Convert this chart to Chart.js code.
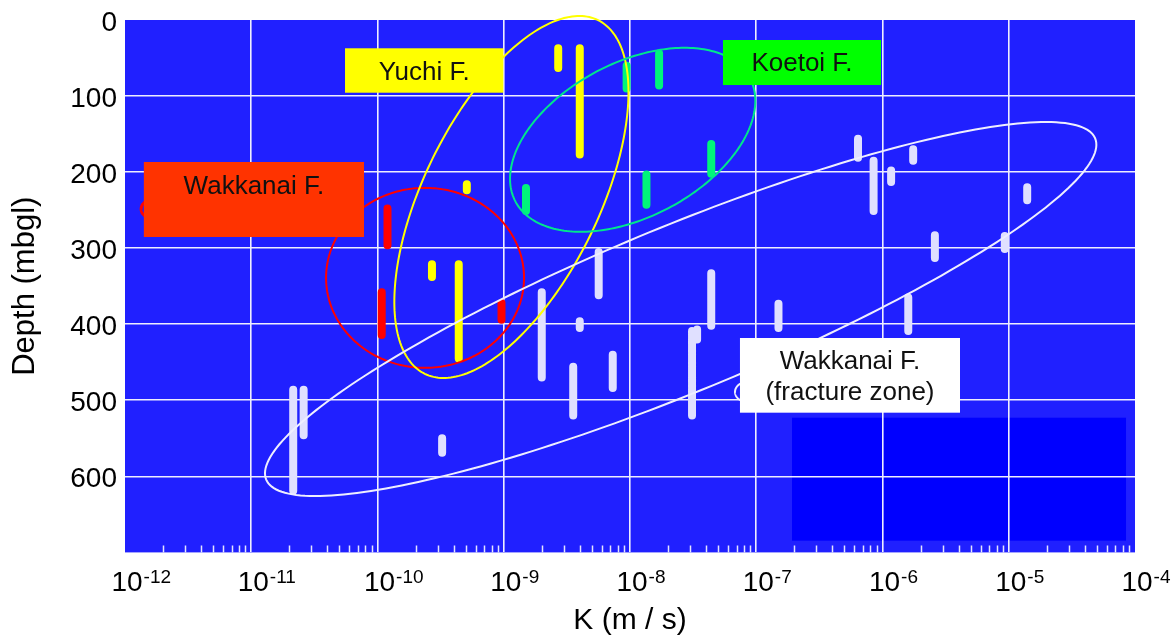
<!DOCTYPE html>
<html>
<head>
<meta charset="utf-8">
<script src="https://cdn.jsdelivr.net/npm/chart.js@4.4.0/dist/chart.umd.min.js"></script>
<style>
  html, body { margin: 0; padding: 0; background: #ffffff; }
  #wrap { width: 1173px; height: 641px; }
</style>
</head>
<body>
<div id="wrap"><canvas id="c" width="1173" height="641"></canvas></div>
<script>
// Axis ticks
const kTicks = [1e-12, 1e-11, 1e-10, 1e-9, 1e-8, 1e-7, 1e-6, 1e-5, 1e-4];
const depthTicks = [0, 100, 200, 300, 400, 500, 600];

// Wakkanai F. (fracture zone): conductivity and tested interval (top / bottom depth, m)
const fractureK = [2.15e-11, 2.6e-11, 3.25e-10, 2.0e-9, 3.55e-9, 4.0e-9, 5.65e-9, 7.3e-9, 3.1e-8, 3.4e-8,
                   4.4e-8, 1.5e-7, 6.4e-7, 8.5e-7, 1.17e-6, 1.6e-6, 1.75e-6, 2.6e-6, 9.3e-6, 1.4e-5];
const fractureTop = [486, 486, 550, 358, 456, 396, 305, 440, 409, 407,
                     333, 373, 156, 185, 198, 365, 170, 283, 284, 220];
const fractureBottom = [619, 546, 569, 470, 520, 405, 362, 484, 520, 420,
                        402, 405, 181, 251, 213, 409, 185, 313, 301, 237];

// Wakkanai F.
const wakkanaiK = [1.08e-10, 1.2e-10, 9.6e-10];
const wakkanaiTop = [358, 248, 372];
const wakkanaiBottom = [414, 296, 394];

// Yuchi F.
const yuchiK = [2.7e-10, 4.4e-10, 5.1e-10, 2.7e-9, 4.0e-9];
const yuchiTop = [321, 321, 216, 37, 37];
const yuchiBottom = [338, 445, 224, 63, 177];

// Koetoi F.
const koetoiK = [1.5e-9, 9.4e-9, 1.35e-8, 1.7e-8, 4.4e-8];
const koetoiTop = [221, 60, 203, 44, 163];
const koetoiBottom = [251, 90, 243, 86, 202];

// Turn each tested interval into a vertical segment; null breaks the line between intervals
function intervals(k, top, bottom) {
  const pts = [];
  k.forEach((v, i) => {
    pts.push({ x: v, y: top[i] }, { x: v, y: bottom[i] }, { x: v, y: null });
  });
  return pts;
}

// Envelopes of each formation, as ellipses in (log10 K, depth) space:
// centre, plus two conjugate semi-axis vectors [decades, metres]
const envelopes = [
  { color: '#ff0000', width: 2,   k: 2.38e-10, depth: 339,   u: [0.784, 0],      v: [0, 118.3] },
  { color: '#ffff00', width: 2,   k: 1.15e-9,  depth: 232.7, u: [0.686, -232.5], v: [0.624, 50.7] },
  { color: '#00e68c', width: 2,   k: 1.05e-8,  depth: 157.5, u: [0.929, -81.0],  v: [0.284, 89.8] },
  { color: '#eeeeff', width: 2,   k: 2.52e-8,  depth: 380,   u: [3.283, -224.3], v: [0.25, 100.7] },
  { color: '#ff0000', width: 3,   k: 1.64e-12, depth: 248.5, u: [0.087, 0],      v: [0, 12] },
  { color: '#eeeeff', width: 2,   k: 8.45e-8,  depth: 489,   u: [0.095, 0],      v: [0, 13] }
];

// Formation name boxes, anchored in data coordinates
const nameBoxes = [
  { fill: '#ffff00', kMin: 5.53e-11, kMax: 9.92e-10, dMin: 37.2, dMax: 95.6,
    lines: [{ text: 'Yuchi F.', depth: 69.7 }] },
  { fill: '#00ff00', kMin: 5.45e-8, kMax: 9.73e-7, dMin: 26.3, dMax: 85.5,
    lines: [{ text: 'Koetoi F.', depth: 57.8 }] },
  { fill: '#ff3300', kMin: 1.41e-12, kMax: 7.82e-11, dMin: 186.7, dMax: 285.3,
    lines: [{ text: 'Wakkanai F.', depth: 219 }] },
  { fill: '#ffffff', kMin: 7.43e-8, kMax: 4.11e-6, dMin: 418.1, dMax: 516.3,
    lines: [{ text: 'Wakkanai F.', depth: 449.6 }, { text: '(fracture zone)', depth: 490.4 }] }
];

// Darker panel in the lower right of the plot
const shadedPanel = { kMin: 1.92e-7, kMax: 8.49e-5, dMin: 522.9, dMax: 684.6 };

const FONT = "'Liberation Sans', Arial, Helvetica, sans-serif";

const decorations = {
  id: 'decorations',
  beforeDraw(chart) {
    const { ctx, chartArea: a, scales: { x, y } } = chart;
    ctx.save();
    ctx.fillStyle = '#2020ff';
    ctx.fillRect(a.left, a.top, a.right - a.left, a.bottom - a.top);
    const x0 = x.getPixelForValue(shadedPanel.kMin), x1 = x.getPixelForValue(shadedPanel.kMax);
    const y0 = y.getPixelForValue(shadedPanel.dMin), y1 = y.getPixelForValue(shadedPanel.dMax);
    ctx.fillStyle = '#0000ff';
    ctx.fillRect(x0, y0, x1 - x0, y1 - y0);
    ctx.restore();
  },
  beforeDatasetsDraw(chart) {
    // minor ticks (2..9 of each decade) along the bottom edge, inside the plot
    const { ctx, chartArea: a, scales: { x } } = chart;
    ctx.save();
    ctx.strokeStyle = '#e4e4ff';
    ctx.lineWidth = 1.5;
    ctx.beginPath();
    for (let e = -12; e < -4; e++) {
      for (let m = 2; m <= 9; m++) {
        const px = Math.round(x.getPixelForValue(m * Math.pow(10, e))) + 0.5;
        ctx.moveTo(px, a.bottom);
        ctx.lineTo(px, a.bottom - 7);
      }
    }
    ctx.stroke();
    ctx.restore();
  },
  afterDatasetsDraw(chart) {
    const { ctx, scales: { x, y } } = chart;
    ctx.save();
    // envelopes
    envelopes.forEach(e => {
      const lk = Math.log10(e.k);
      ctx.beginPath();
      for (let i = 0; i <= 240; i++) {
        const t = (i / 240) * Math.PI * 2;
        const c = Math.cos(t), s = Math.sin(t);
        const px = x.getPixelForValue(Math.pow(10, lk + e.u[0] * c + e.v[0] * s));
        const py = y.getPixelForValue(e.depth + e.u[1] * c + e.v[1] * s);
        if (i === 0) ctx.moveTo(px, py); else ctx.lineTo(px, py);
      }
      ctx.closePath();
      ctx.strokeStyle = e.color;
      ctx.lineWidth = e.width;
      ctx.stroke();
    });
    // name boxes
    nameBoxes.forEach(b => {
      const x0 = x.getPixelForValue(b.kMin), x1 = x.getPixelForValue(b.kMax);
      const y0 = y.getPixelForValue(b.dMin), y1 = y.getPixelForValue(b.dMax);
      ctx.fillStyle = b.fill;
      ctx.fillRect(x0, y0, x1 - x0, y1 - y0);
      ctx.fillStyle = '#111111';
      ctx.font = '26px ' + FONT;
      ctx.textAlign = 'center';
      ctx.textBaseline = 'middle';
      b.lines.forEach(l => ctx.fillText(l.text, (x0 + x1) / 2, y.getPixelForValue(l.depth)));
    });
    ctx.restore();
  },
  afterDraw(chart) {
    // power-of-ten labels under the K axis
    const { ctx, scales: { x } } = chart;
    ctx.save();
    ctx.fillStyle = '#000000';
    ctx.textBaseline = 'alphabetic';
    kTicks.forEach(v => {
      const px = x.getPixelForValue(v);
      const exp = String(Math.round(Math.log10(v)));
      ctx.font = '28px ' + FONT;
      ctx.textAlign = 'center';
      const w = ctx.measureText('10').width;
      const cx = px + 2;
      ctx.fillText('10', cx, x.top + 39);
      ctx.font = '19px ' + FONT;
      ctx.textAlign = 'left';
      ctx.fillText(exp, cx + w / 2 + 1, x.top + 31);
    });
    ctx.restore();
  }
};

const edgeTransparent = (first, last) => ctx =>
  (ctx.tick && (ctx.tick.value === first || ctx.tick.value === last)) ? 'rgba(0,0,0,0)' : '#eeeeff';

new Chart(document.getElementById('c'), {
  type: 'line',
  data: {
    datasets: [
      { label: 'Wakkanai F. (fracture zone)', data: intervals(fractureK, fractureTop, fractureBottom), borderColor: '#e0e0ff' },
      { label: 'Wakkanai F.', data: intervals(wakkanaiK, wakkanaiTop, wakkanaiBottom), borderColor: '#ff0000' },
      { label: 'Yuchi F.', data: intervals(yuchiK, yuchiTop, yuchiBottom), borderColor: '#ffff00' },
      { label: 'Koetoi F.', data: intervals(koetoiK, koetoiTop, koetoiBottom), borderColor: '#00f57a' }
    ].map(d => Object.assign(d, {
      borderWidth: 8, borderCapStyle: 'round', pointRadius: 0, pointHoverRadius: 0,
      fill: false, tension: 0, spanGaps: false
    }))
  },
  options: {
    responsive: false,
    devicePixelRatio: 1,
    animation: false,
    layout: { padding: { top: 20, right: 38, bottom: 0, left: 0 } },
    plugins: { legend: { display: false }, tooltip: { enabled: false } },
    scales: {
      x: {
        type: 'logarithmic',
        min: 1e-12, max: 1e-4,
        afterBuildTicks: s => { s.ticks = kTicks.map(v => ({ value: v, major: true })); },
        afterFit: s => { s.height = 88.6; s.paddingLeft = 0; s.paddingRight = 0; },
        ticks: { display: false },
        border: { display: false },
        grid: { color: edgeTransparent(1e-12, 1e-4), lineWidth: 1.6, drawTicks: false },
        title: { display: true, text: 'K (m / s)', color: '#000000',
                 font: { family: FONT, size: 30 }, padding: { top: 0, bottom: 2 } }
      },
      y: {
        type: 'linear',
        reverse: true,
        min: 0, max: 700,
        afterBuildTicks: s => { s.ticks = depthTicks.map(v => ({ value: v })); },
        afterFit: s => { s.width = 125; s.paddingTop = 0; s.paddingBottom = 0; },
        ticks: { color: '#000000', font: { family: FONT, size: 28 }, padding: 8, labelOffset: 3 },
        border: { display: false },
        grid: { color: edgeTransparent(0, 700), lineWidth: 1.6, drawTicks: false },
        title: { display: true, text: 'Depth (mbgl)', color: '#000000',
                 font: { family: FONT, size: 31 }, padding: { top: 7, bottom: 0 } }
      }
    }
  },
  plugins: [decorations]
});
</script>
</body>
</html>
